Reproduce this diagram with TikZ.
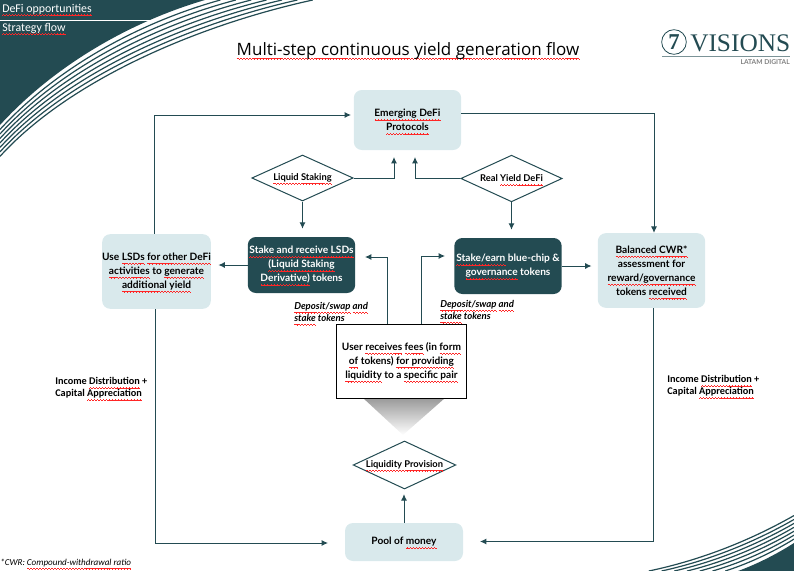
\documentclass[tikz,border=0pt]{standalone}
\usepackage{fontspec}
\usetikzlibrary{arrows.meta, shapes.geometric, calc}
\setmainfont{Lato}
\newfontfamily\calfont{Carlito}
\newfontfamily\titlefont{Open Sans}
\newfontfamily\logofont{Liberation Serif}
\definecolor{tealdark}{HTML}{234B52}
\definecolor{tealpale}{HTML}{D9E9EC}
\newcommand\wavelet{\hbox{\rule[-2.5pt]{.55pt}{.4pt}\rule[-2.15pt]{.55pt}{.4pt}\rule[-2.5pt]{.55pt}{.4pt}\rule[-2.85pt]{.55pt}{.4pt}}}
\newcommand\sq[1]{\setbox0\hbox{#1}\rlap{\smash{\textcolor{red!85}{\hbox to\wd0{\xleaders\wavelet\hfil}}}}\box0\relax}
\tikzset{%
  >={Latex[width=1.6mm,length=1.7mm]},
  % Specifications for style of nodes:
	base/.style = {align=center, inner sep=0pt, font=\fontsize{7.6}{10.5}\selectfont\bfseries},
	pale/.style = {base, rounded corners=6pt, fill=tealpale},
	dark/.style = {base, rounded corners=6pt, fill=tealdark, text=white, minimum width=80.5pt, minimum height=42pt},
	decision/.style = {base, diamond, draw=tealdark, line width=0.75pt, fill=white, aspect=2.2, font=\fontsize{7}{9}\selectfont\bfseries},
	remark/.style = {anchor=west, align=left, inner sep=0pt, font=\calfont\fontsize{7.7}{9}\selectfont\bfseries},
	deposit/.style = {anchor=west, align=left, inner sep=0pt, font=\fontsize{7.2}{9}\selectfont\bfseries\itshape},
	norm/.style = {->, draw=tealdark, line width=0.75pt},
	stripe/.style = {draw=tealdark, line width=0.9pt}
}

\begin{document}
\begin{tikzpicture}[x=0.75pt, y=-0.75pt]
  \useasboundingbox (0,0) rectangle (794,571);
  % Corner bands
  \fill [tealdark] (0,0) -- (0,125) .. controls (55,65) and (130,22) .. (205,0) -- cycle;
  \coordinate (s0) at (0,125);   \coordinate (s1) at (55,65);
  \coordinate (s2) at (130,22);  \coordinate (s3) at (205,0);
  \coordinate (o0) at (0,157);   \coordinate (o1) at (70,80);
  \coordinate (o2) at (200,25);  \coordinate (o3) at (315,0);
  \foreach \f in {0.14,0.28,...,1.0}
    \draw [stripe] ($(s0)!\f!(o0)$) .. controls ($(s1)!\f!(o1)$) and ($(s2)!\f!(o2)$) .. ($(s3)!\f!(o3)$);
  \fill [tealdark] (794,571) -- (738,571) .. controls (760,563) and (780,552) .. (794,543) -- cycle;
  \coordinate (p0) at (738,571); \coordinate (p1) at (760,563);
  \coordinate (p2) at (780,552); \coordinate (p3) at (794,543);
  \coordinate (q0) at (647,571); \coordinate (q1) at (700,560);
  \coordinate (q2) at (750,540); \coordinate (q3) at (794,515);
  \foreach \f in {0.14,0.28,...,1.0}
    \draw [stripe] ($(p0)!\f!(q0)$) .. controls ($(p1)!\f!(q1)$) and ($(p2)!\f!(q2)$) .. ($(p3)!\f!(q3)$);

  % Header
  \coordinate (rulea) at (0,20);
  \coordinate (ruleb) at (152,20);
  \draw [white, line width=0.75pt] (rulea) -- (ruleb);
  \node (topic) [anchor=west, inner sep=0pt, text=white, font=\calfont\fontsize{8.9}{10}\selectfont] at (2,9) {\sq{DeFi opportunities}};
  \node (subtopic) [anchor=west, inner sep=0pt, text=white, font=\calfont\fontsize{8.9}{10}\selectfont] at (2,28) {\sq{Strategy flow}};
  \node (title) [inner sep=0pt, font=\titlefont\fontsize{12.75}{14}\selectfont] at (408,51) {\sq{Multi-step continuous yield generation flow}};

  % Logo
  \node (seal) [circle, draw=tealdark, line width=0.6pt, minimum size=18.5pt, inner sep=0pt, text=tealdark, font=\logofont\bfseries\fontsize{17}{17}\selectfont] at (674,42) {7};
  \node (visions) [anchor=west, inner sep=0pt, text=tealdark, font=\logofont\fontsize{19}{20}\selectfont] at (690,43) {VISIONS};
  \coordinate (linea) at (662,56);
  \coordinate (lineb) at (790,56);
  \draw [tealdark!60, line width=0.75pt] (linea) -- (lineb);
  \node (latam) [anchor=east, inner sep=0pt, text=gray, font=\fontsize{5}{6}\selectfont\bfseries] at (790,62) {LATAM DIGITAL};

  % Specification of nodes (position, etc.)
  \shade [top color=black!40, bottom color=white] (363,398) -- (445,398) -- (403,435) -- cycle;
  \node (emerging) [pale, minimum width=80.5pt, minimum height=45pt] at (407.5,120) {\sq{Emerging DeFi}\\ \sq{Protocols}};
  \node (liquid) [decision, minimum width=76pt, minimum height=34.5pt] at (302.5,178) {\sq{Liquid Staking}};
  \node (realyield) [decision, minimum width=76pt, minimum height=35pt] at (511.5,178.5) {Real \sq{Yield DeFi}};
  \node (stake) [dark] at (301.5,265) {\sq{Stake and receive LSDs}\\ \sq{(Liquid Staking}\\ \sq{Derivative)} tokens};
  \node (earn) [dark] at (508,266) {\sq{Stake/earn} blue-chip \&\\ \sq{governance} tokens};
  \node (lsds) [pale, minimum width=80.5pt, minimum height=56pt] at (156.5,271.5) {Use \sq{LSDs} \sq{for other DeFi}\\ \sq{activities} to \sq{generate}\\ \sq{additional yield}};
  \node (balanced) [pale, minimum width=80.5pt, minimum height=56pt] at (651.5,270.5) {\sq{Balanced CWR*}\\ assessment for\\ \sq{reward/governance}\\ tokens \sq{received}};
  \node (fees) [base, draw=black, line width=0.9pt, fill=white, minimum width=98pt, minimum height=55pt] at (401.5,361.5) {User \sq{receives} \sq{fees} (in \sq{form}\\ \sq{of} tokens) \sq{for providing}\\ \sq{liquidity} to a \sq{specific pair}};
  \node (provision) [decision, minimum width=77pt, minimum height=36pt] at (404.5,465) {\sq{Liquidity Provision}};
  \node (pool) [pale, minimum width=88.5pt, minimum height=28.5pt] at (404,542) {Pool of \sq{money}};

  \node (depl) [deposit] at (294,312) {\sq{Deposit/swap} \sq{and}\\ \sq{stake} tokens};
  \node (depr) [deposit] at (440,310) {\sq{Deposit/swap} \sq{and}\\ \sq{stake} tokens};
  \node (incl) [remark] at (55,388) {Income \sq{Distribution} +\\ Capital \sq{Appreciation}};
  \node (incr) [remark] at (667,386) {Income \sq{Distribution} +\\ Capital \sq{Appreciation}};
  \node (cwr) [anchor=west, inner sep=0pt, font=\calfont\itshape\fontsize{6.8}{9}\selectfont] at (0,563) {*CWR: \sq{Compound-withdrawal ratio}};

  % Free ends of connectors
  \coordinate (c1) at (154,115);
  \coordinate (c2) at (351,115);
  \coordinate (c3) at (654,113);
  \coordinate (c4) at (394,157);
  \coordinate (c5) at (415,157);
  \coordinate (c6) at (365,257);
  \coordinate (c7) at (387,257);
  \coordinate (c8) at (445,256);
  \coordinate (c9) at (421.5,256);
  \coordinate (c10) at (155,543);
  \coordinate (c11) at (328,543);
  \coordinate (c12) at (653,541.5);
  \coordinate (c13) at (480,541.5);

  \draw [norm] (c1 |- lsds.north) -- (c1) -- (c2);
  \draw [norm] (emerging.east |- c3) -- (c3) -- (c3 |- balanced.north);
  \draw [norm] (liquid.east) -| (c4);
  \draw [norm] (realyield.west) -| (c5);
  \draw [norm, shorten >=6pt] (liquid.south) -- (liquid.south |- stake.north);
  \draw [norm, shorten >=6pt] (realyield.south) -- (realyield.south |- earn.north);
  \draw [norm, shorten >=5.5pt] (stake.west) -- (stake.west -| lsds.east);
  \draw [norm, shorten >=4.5pt] (earn.east) -- (earn.east -| balanced.west);
  \draw [norm] (c7 |- fees.north) -- (c7) -- (c6);
  \draw [norm] (c9 |- fees.north) -- (c9) -- (c8);
  \draw [norm] (c10 |- lsds.south) -- (c10) -- (c11);
  \draw [norm] (c12 |- balanced.south) -- (c12) -- (c13);
  \draw [norm, shorten >=3.5pt] (pool.north) -- (pool.north |- provision.south);
\end{tikzpicture}
\end{document}
